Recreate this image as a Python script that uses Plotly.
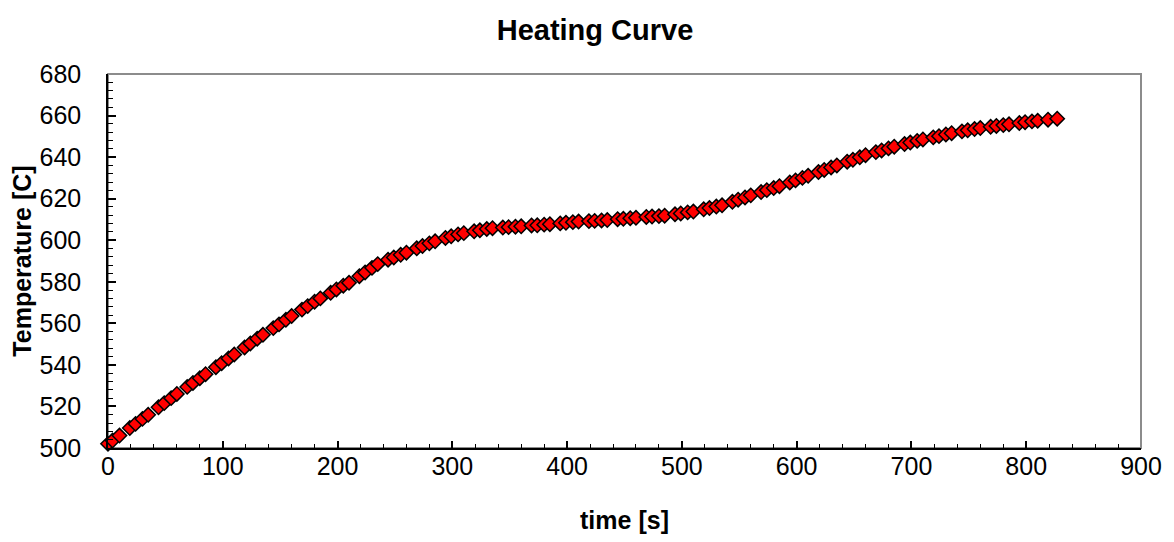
import plotly.graph_objects as go

time_s = [0, 4, 10,
          19, 24, 30, 35, 44, 49, 55, 60, 69, 74, 80, 85, 94, 99, 105, 110,
          119, 124, 130, 135, 144, 149, 155, 160, 169, 174, 180, 185, 194, 199, 205, 210,
          219, 224, 230, 235, 244, 249, 255, 260, 269, 274, 280, 285, 294, 299, 305, 310,
          319, 324, 330, 335, 344, 349, 355, 360, 369, 374, 380, 385, 394, 399, 405, 410,
          419, 424, 430, 435, 444, 449, 455, 460, 469, 474, 480, 485, 494, 499, 505, 510,
          519, 524, 530, 535, 544, 549, 555, 560, 569, 574, 580, 585, 594, 599, 605, 610,
          619, 624, 630, 635, 644, 649, 655, 660, 669, 674, 680, 685, 694, 699, 705, 710,
          719, 724, 730, 735, 744, 749, 755, 760, 769, 774, 780, 785, 794, 799, 805, 810,
          819, 827]

temperature_c = [502.0, 503.6, 506.0,
                 509.6, 511.6, 514.0, 516.0, 519.6, 521.6, 524.0, 526.0,
                 529.4, 531.3, 533.6, 535.5, 538.9, 540.8, 543.1, 545.0,
                 548.4, 550.3, 552.6, 554.5, 557.7, 559.5, 561.7, 563.5,
                 566.6, 568.3, 570.4, 572.0, 574.7, 576.3, 578.1, 579.5,
                 582.7, 584.5, 586.7, 588.5, 590.6, 591.7, 593.0, 594.0,
                 596.1, 597.2, 598.5, 599.5, 601.1, 601.9, 602.8, 603.4,
                 604.3, 604.8, 605.4, 605.8, 606.1, 606.3, 606.5, 606.7,
                 607.1, 607.2, 607.5, 607.7, 608.1, 608.4, 608.7, 609.0,
                 609.2, 609.3, 609.5, 609.7, 610.1, 610.3, 610.6, 610.8,
                 611.2, 611.4, 611.6, 611.8, 612.5, 612.9, 613.4, 613.8,
                 614.9, 615.5, 616.2, 616.8, 618.5, 619.5, 620.6, 621.6,
                 623.2, 624.1, 625.1, 626.0, 627.8, 628.8, 630.0, 631.0,
                 632.8, 633.8, 635.0, 636.0, 637.8, 638.7, 639.9, 640.9,
                 642.4, 643.2, 644.2, 645.0, 646.3, 647.0, 647.8, 648.5,
                 649.5, 650.1, 650.9, 651.5, 652.4, 652.9, 653.5, 654.0,
                 654.6, 655.0, 655.4, 655.8, 656.4, 656.8, 657.2, 657.5,
                 658.0, 658.5]

x_ticks = [0, 100, 200, 300, 400, 500, 600, 700, 800, 900]
y_ticks = [500, 520, 540, 560, 580, 600, 620, 640, 660, 680]

FONT = "Liberation Sans, Arial, sans-serif"

fig = go.Figure()
fig.add_trace(go.Scatter(
    x=time_s, y=temperature_c, mode="markers",
    marker=dict(symbol="diamond", size=11, color="#FF0000",
                line=dict(color="#000000", width=1.5)),
    showlegend=False, cliponaxis=False,
))

# grey plot-area border (top/right appear grey)
fig.add_shape(type="rect", xref="paper", yref="paper", x0=0, x1=1, y0=0, y1=1,
              line=dict(color="#8c8c8c", width=2), layer="below")

# page body has an 8px margin, so the figure is offset by 8px
fig.update_layout(
    width=1166, height=534,
    margin=dict(l=98, r=33, t=66, b=89),
    paper_bgcolor="white", plot_bgcolor="white",
    font=dict(family=FONT, color="black", size=25),
    title=dict(text="<b>Heating Curve</b>", x=(595 - 8) / 1166, xanchor="center",
               y=1 - (30 - 8) / 534, yanchor="middle",
               font=dict(family=FONT, size=29, color="black")),
)

fig.update_xaxes(
    range=[0, 900], tickmode="array", tickvals=x_ticks,
    ticks="inside", ticklen=7, tickwidth=1.5, tickcolor="black",
    minor=dict(ticks="inside", ticklen=4, tickwidth=1, tickcolor="black", dtick=20, showgrid=False),
    showgrid=False, zeroline=False,
    showline=True, linecolor="black", linewidth=1.5,
    tickfont=dict(family=FONT, size=25, color="black"),
    ticklabelstandoff=-5,
    title=dict(text="<b>time [s]</b>", font=dict(family=FONT, size=25, color="black"), standoff=33),
)
fig.update_yaxes(
    range=[500, 680], tickmode="array", tickvals=y_ticks,
    ticks="inside", ticklen=8, tickwidth=1.5, tickcolor="black",
    minor=dict(ticks="inside", ticklen=5, tickwidth=1, tickcolor="black", dtick=4, showgrid=False),
    showgrid=False, zeroline=False,
    showline=True, linecolor="black", linewidth=1.5,
    tickfont=dict(family=FONT, size=25, color="black"),
    ticklabelstandoff=20,
    title=dict(text="<b>Temperature [C]</b>", font=dict(family=FONT, size=25, color="black"), standoff=2),
)

fig.write_html("out.html")
